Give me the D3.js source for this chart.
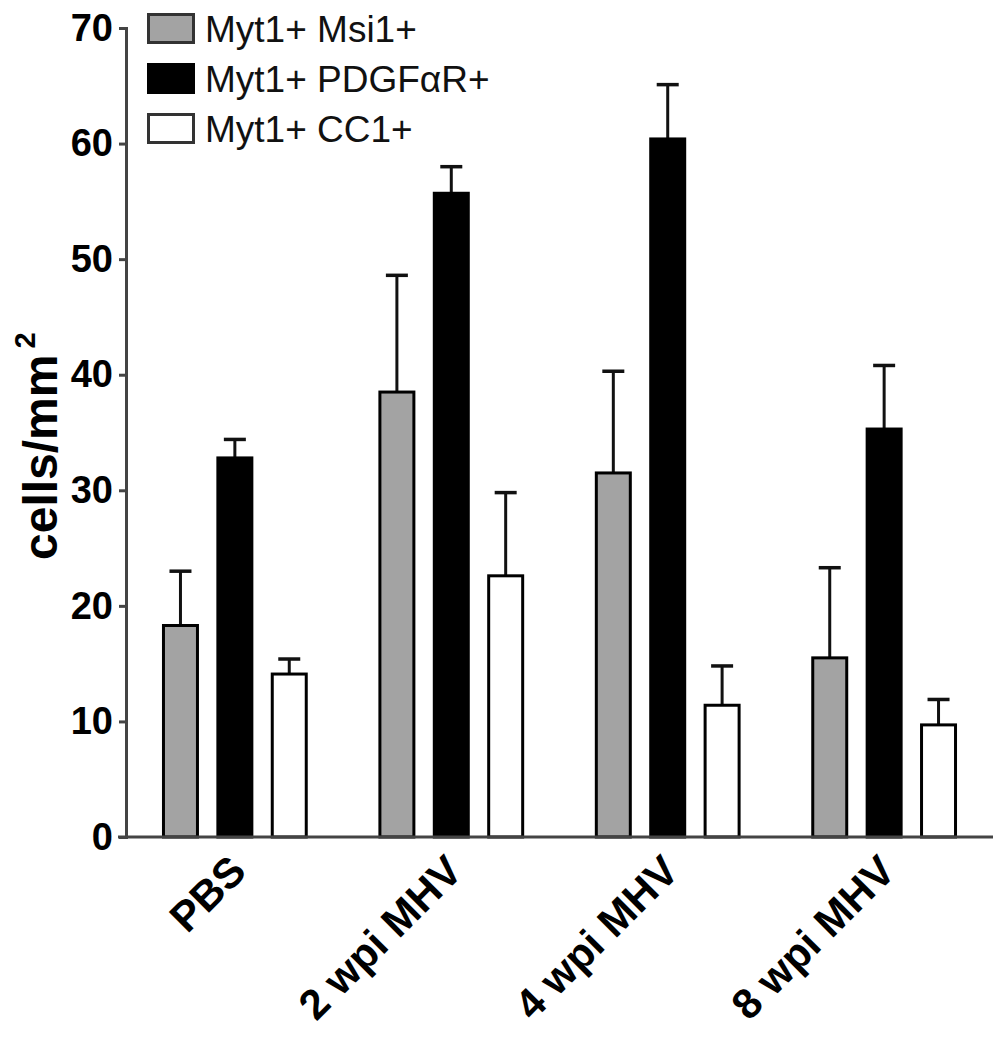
<!DOCTYPE html>
<html>
<head>
<meta charset="utf-8">
<script src="https://cdn.jsdelivr.net/npm/d3@7"></script>
<style>
  html, body { margin: 0; padding: 0; background: #fff; }
  svg { display: block; }
  text { font-family: "Liberation Sans", Arial, sans-serif; }
</style>
</head>
<body>
<svg id="chart" width="1002" height="1050"></svg>
<script>
const categories = ["PBS", "2 wpi MHV", "4 wpi MHV", "8 wpi MHV"];
const seriesNames = ["Myt1+ Msi1+", "Myt1+ PDGFαR+", "Myt1+ CC1+"];
const msi1Values  = [18.3, 38.5, 31.5, 15.5];
const msi1Upper   = [23.0, 48.6, 40.3, 23.3];
const pdgfValues  = [32.8, 55.7, 60.4, 35.3];
const pdgfUpper   = [34.4, 58.0, 65.1, 40.8];
const cc1Values   = [14.1, 22.6, 11.4, 9.7];
const cc1Upper    = [15.4, 29.8, 14.8, 11.9];
const yTicks = [0, 10, 20, 30, 40, 50, 60, 70];

const fills = ["#a3a3a3", "#000000", "#ffffff"];
const valuesBySeries = [msi1Values, pdgfValues, cc1Values];
const upperBySeries = [msi1Upper, pdgfUpper, cc1Upper];

const svg = d3.select("#chart");

const x0 = d3.scaleBand().domain(categories).range([126, 993]).paddingInner(0.246).paddingOuter(0.126);
const x1 = d3.scaleBand().domain(seriesNames).range([0, x0.bandwidth()]).paddingInner(0.32).paddingOuter(0.16);
const y = d3.scaleLinear().domain([0, 70]).range([837, 28]);

// bars
const groups = svg.append("g").selectAll("g").data(categories).join("g")
  .attr("transform", d => `translate(${x0(d)},0)`);

groups.each(function(cat, ci) {
  const g = d3.select(this);
  seriesNames.forEach((s, si) => {
    const v = valuesBySeries[si][ci];
    const u = upperBySeries[si][ci];
    const bx = x1(s);
    const bw = x1.bandwidth();
    const cx = bx + bw / 2;
    g.append("line").attr("x1", cx).attr("x2", cx).attr("y1", y(v)).attr("y2", y(u))
      .attr("stroke", "#111").attr("stroke-width", 3);
    g.append("line").attr("x1", cx - 11).attr("x2", cx + 11).attr("y1", y(u)).attr("y2", y(u))
      .attr("stroke", "#111").attr("stroke-width", 3.5);
    g.append("rect")
      .attr("x", bx + 1.5).attr("y", y(v))
      .attr("width", bw - 3).attr("height", y(0) - y(v))
      .attr("fill", fills[si]).attr("stroke", "#000").attr("stroke-width", 3);
  });
});

// y axis
const yAxis = d3.axisLeft(y).tickValues(yTicks).tickSize(7).tickPadding(6);
const ya = svg.append("g").attr("transform", "translate(126,0)").call(yAxis);
ya.select(".domain").attr("stroke", "#444").attr("stroke-width", 3);
ya.selectAll(".tick line").attr("stroke", "#444").attr("stroke-width", 3);
ya.selectAll(".tick text").attr("font-size", 38).attr("font-weight", "bold").attr("fill", "#000")
  .attr("font-family", "'Liberation Sans', Arial, sans-serif");

// x axis line
svg.append("line").attr("x1", 118).attr("x2", 993).attr("y1", y(0)).attr("y2", y(0))
  .attr("stroke", "#444").attr("stroke-width", 3);

// x labels
svg.append("g").selectAll("text").data(categories).join("text")
  .attr("transform", d => `translate(${x0(d) + x0.bandwidth() / 2 - 8},852) rotate(-45)`)
  .attr("text-anchor", "end")
  .attr("dy", "0.72em")
  .attr("font-size", 42).attr("font-weight", "bold").attr("fill", "#000")
  .text(d => d);

// y label
const yl = svg.append("text")
  .attr("transform", "translate(57,560) rotate(-90)")
  .attr("text-anchor", "start")
  .attr("font-size", 48).attr("font-weight", "bold").attr("fill", "#000");
yl.append("tspan").text("cells/mm");
yl.append("tspan").attr("dx", 6).attr("dy", -22).attr("font-size", 29).text("2");

// legend
const leg = svg.append("g").selectAll("g").data(seriesNames).join("g")
  .attr("transform", (d, i) => `translate(147,${13 + i * 50})`);
leg.append("rect").attr("x", 1.5).attr("y", 1.5).attr("width", 45).attr("height", 28)
  .attr("fill", (d, i) => fills[i]).attr("stroke", (d, i) => i === 1 ? "#000" : "#333").attr("stroke-width", 3);
leg.append("text").attr("x", 58).attr("y", 16).attr("dy", "0.36em")
  .attr("font-size", 37).attr("fill", "#111").text(d => d);
</script>
</body>
</html>
